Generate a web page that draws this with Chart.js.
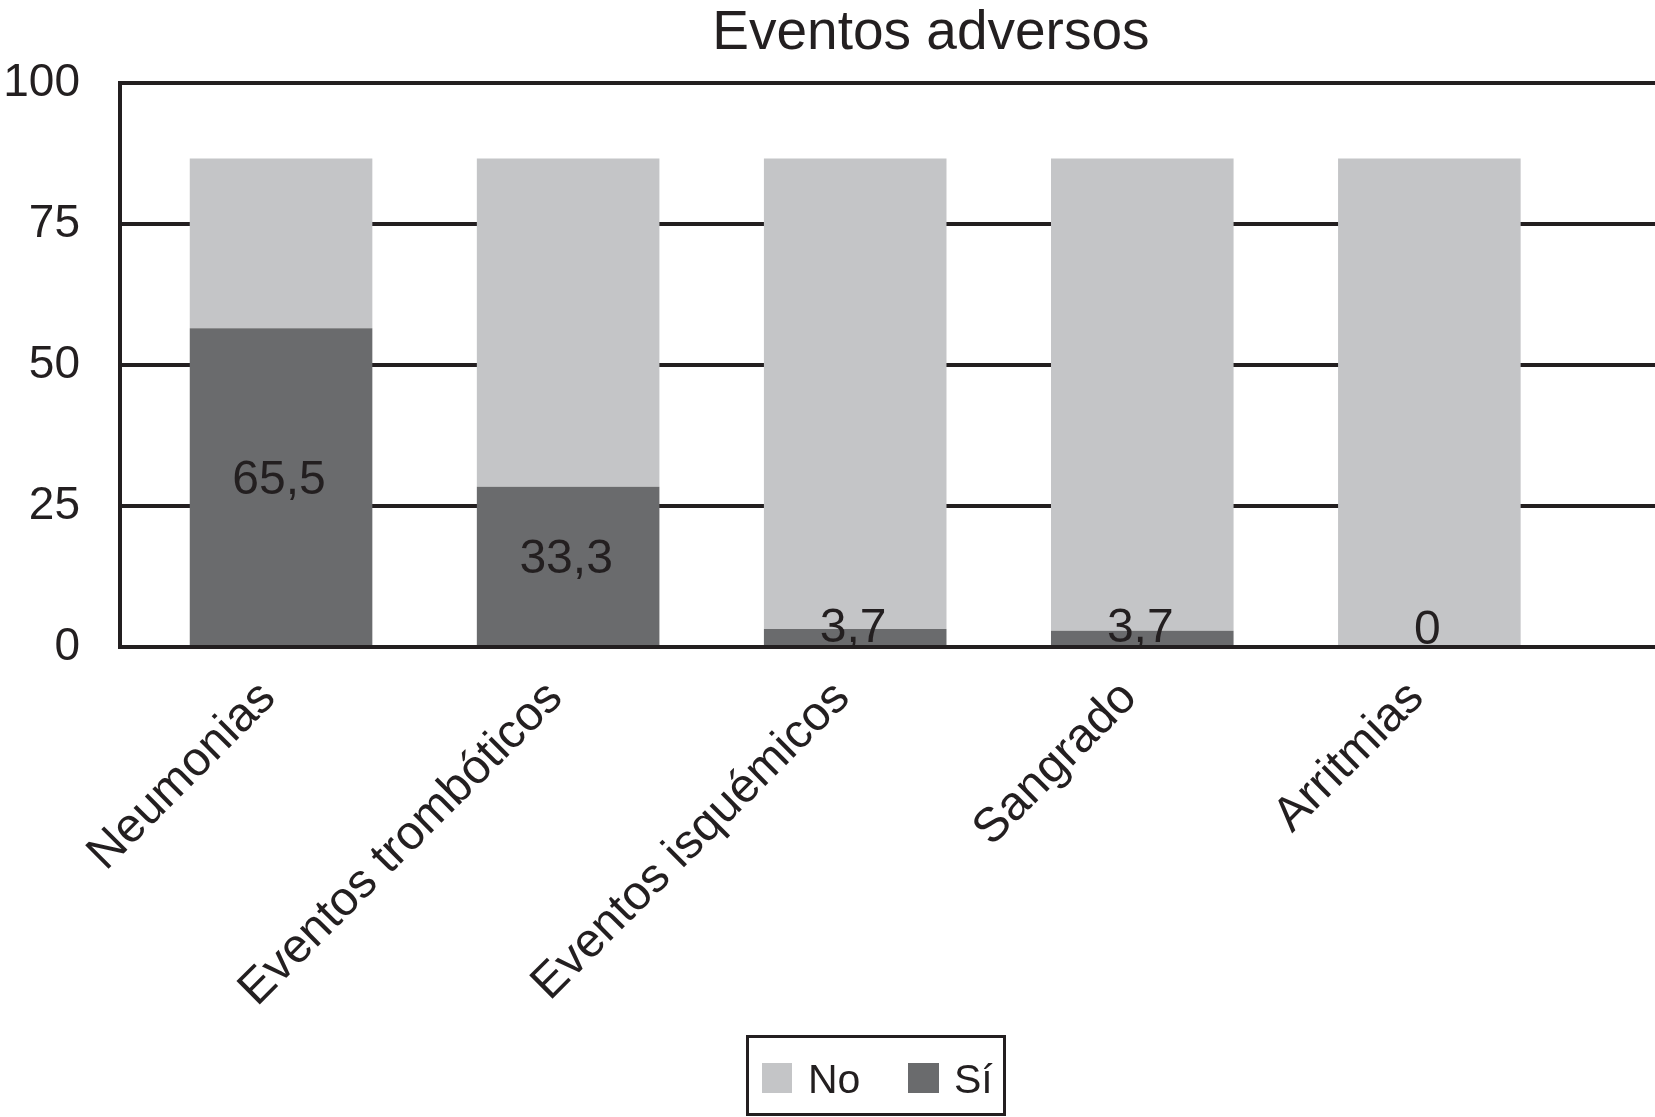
<!DOCTYPE html>
<html><head><meta charset="utf-8">
<script src="https://cdn.jsdelivr.net/npm/chart.js@4.4.1/dist/chart.umd.min.js"></script>
<style>html,body{margin:0;padding:0;background:#fff;}canvas{display:block;}</style>
</head><body>
<canvas id="c" width="1655" height="1117"></canvas>
<script>
const categories = ['Neumonias', 'Eventos trombóticos', 'Eventos isquémicos', 'Sangrado', 'Arritmias'];
const siValues = [56.5, 28.4, 3.2, 2.9, 0];
const noValues = [30.1, 58.2, 83.4, 83.7, 86.6];
const siLabels = ['65,5', '33,3', '3,7', '3,7', '0'];
const yTicks = [0, 25, 50, 75, 100];
const seriesNames = ['No', 'Sí'];
const chartTitle = 'Eventos adversos';

const FONT = "'Liberation Sans', Arial, Helvetica, sans-serif";
const TXT = '#231f20';
const LIGHT = '#c4c5c7';
const DARK = '#6a6b6d';
const LABEL_SHIFT = -0.045; // category label anchor nudge (in category units)

const overlay = {
  id: 'overlay',
  afterDatasetsDraw(chart) {
    const ctx = chart.ctx;
    const meta = chart.getDatasetMeta(0);
    ctx.save();
    ctx.fillStyle = TXT;
    ctx.font = '48px ' + FONT;
    ctx.textAlign = 'center';
    ctx.textBaseline = 'alphabetic';
    meta.data.forEach((el, i) => {
      const mid = (el.y + el.base) / 2;
      const cy = Math.min(mid - 10, el.base - 20);
      ctx.fillText(siLabels[i], el.x - 2, cy + 17);
    });
    ctx.restore();
  },
  afterDraw(chart) {
    const ctx = chart.ctx;
    ctx.save();
    ctx.fillStyle = TXT;
    ctx.font = '55px ' + FONT;
    ctx.textAlign = 'center';
    ctx.textBaseline = 'alphabetic';
    ctx.fillText(chartTitle, chart.width * 0.5625, 49);
    const lx = 747.5, ly = 1036.5, lw = 257, lh = 78;
    ctx.strokeStyle = '#231f20';
    ctx.lineWidth = 3;
    ctx.strokeRect(lx, ly, lw, lh);
    ctx.font = '41px ' + FONT;
    ctx.textAlign = 'left';
    ctx.fillStyle = LIGHT;
    ctx.fillRect(762, 1063, 30, 30);
    ctx.fillStyle = TXT;
    ctx.fillText(seriesNames[0], 808, 1093);
    ctx.fillStyle = DARK;
    ctx.fillRect(908, 1063, 31, 30);
    ctx.fillStyle = TXT;
    ctx.fillText(seriesNames[1], 954, 1093);
    ctx.restore();
  }
};

new Chart(document.getElementById('c'), {
  type: 'bar',
  data: {
    datasets: [
      { label: seriesNames[1], data: siValues.map((v, i) => ({ x: i, y: v })), backgroundColor: DARK, borderWidth: 0 },
      { label: seriesNames[0], data: noValues.map((v, i) => ({ x: i, y: v })), backgroundColor: LIGHT, borderWidth: 0 }
    ]
  },
  options: {
    responsive: false,
    animation: false,
    categoryPercentage: 1,
    barPercentage: 0.636,
    layout: { padding: { top: 83, left: 0, right: 0, bottom: 0 } },
    plugins: { legend: { display: false }, title: { display: false }, tooltip: { enabled: false } },
    scales: {
      x: {
        type: 'linear',
        stacked: true,
        offset: false,
        min: -0.561,
        max: 4.786,
        afterBuildTicks: (s) => { s.ticks = categories.map((c, i) => ({ value: i + LABEL_SHIFT })); },
        afterFit: (s) => { s.height = 470; },
        grid: { display: false },
        border: { display: true, color: '#231f20', width: 4 },
        ticks: {
          autoSkip: false,
          minRotation: 45,
          maxRotation: 45,
          padding: 15,
          color: TXT,
          font: { family: FONT, size: 48 },
          callback: (v, idx) => categories[idx] !== undefined ? categories[idx] : ''
        }
      },
      y: {
        stacked: true,
        min: 0,
        max: 100,
        afterBuildTicks: (s) => { s.ticks = yTicks.map(v => ({ value: v })); },
        afterFit: (s) => { s.width = 120; },
        grid: { color: '#231f20', lineWidth: 4, drawTicks: false },
        border: { display: true, color: '#231f20', width: 4 },
        ticks: { padding: 40, color: TXT, font: { family: FONT, size: 46 } }
      }
    }
  },
  plugins: [overlay]
});
</script>
</body></html>
